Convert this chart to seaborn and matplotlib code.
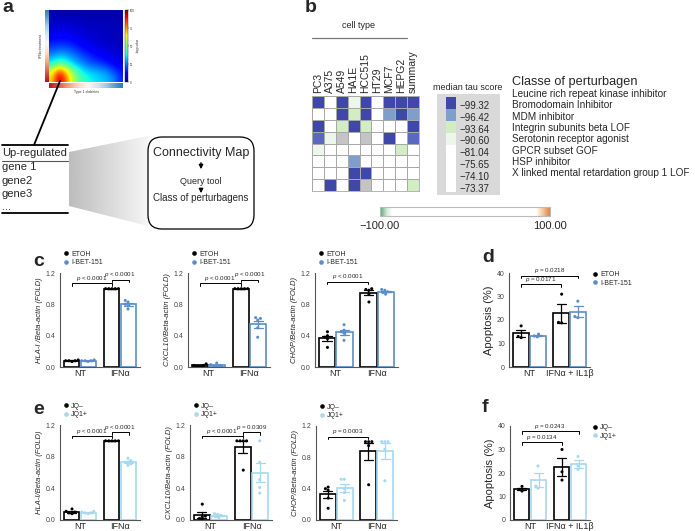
import numpy as np
import pandas as pd
import matplotlib
matplotlib.use("Agg")
import matplotlib.pyplot as plt
import seaborn as sns
from matplotlib.colors import ListedColormap, LinearSegmentedColormap
from matplotlib.lines import Line2D
from matplotlib.patches import Rectangle, Polygon, FancyBboxPatch

sns.set_style("white")
plt.rcParams["font.family"] = ["Liberation Sans", "DejaVu Sans"]
plt.rcParams["mathtext.fontset"] = "custom"
plt.rcParams["mathtext.it"] = "Liberation Sans:italic"
plt.rcParams["mathtext.rm"] = "Liberation Sans"

# ---------------- data ----------------
# panel a: overlap map (0-100 scale)
rrho_grid = [
    [4, 4, 4, 4, 4, 4, 4, 4, 4, 4, 4, 4],
    [6, 6, 6, 6, 6, 5, 5, 5, 5, 5, 5, 4],
    [8, 8, 8, 8, 7, 7, 6, 6, 6, 5, 5, 5],
    [10, 11, 11, 10, 9, 8, 7, 7, 6, 6, 5, 5],
    [14, 15, 15, 14, 12, 10, 9, 8, 7, 6, 6, 5],
    [20, 22, 22, 20, 17, 14, 12, 10, 9, 8, 7, 6],
    [28, 32, 31, 28, 24, 20, 17, 14, 12, 10, 9, 8],
    [38, 46, 44, 36, 30, 26, 22, 20, 18, 15, 12, 9],
    [60, 82, 74, 56, 44, 36, 32, 30, 28, 25, 20, 14],
    [68, 95, 86, 64, 50, 42, 38, 35, 33, 30, 26, 17],
]
gene_list = ["Up-regulated", "gene 1", "gene2", "gene3", "..."]

# panel b
cell_types = ["PC3", "A375", "A549", "HA1E", "HCC515", "HT29", "MCF7", "HEPG2", "summary"]
perturbagen_classes = [
    "Leucine rich repeat kinase inhibitor",
    "Bromodomain Inhibitor",
    "MDM inhibitor",
    "Integrin subunits beta LOF",
    "Serotonin receptor agonist",
    "GPCR subset GOF",
    "HSP inhibitor",
    "X linked mental retardation group 1 LOF",
]
tau_scores = [-99.32, -96.42, -93.64, -90.60, -81.04, -75.65, -74.10, -73.37]
# colour level per cell: 0 white, 1 very light green, 2 light green, 3 grey-blue, 4 blue, 5 dark blue, nan = grey
nan = np.nan
connectivity_levels = [
    [5, 0, 5, 1, 5, 0, 5, 5, 5],
    [0, 0, 5, 2, 5, 0, 3, 5, 3],
    [5, 0, 2, 5, 2, 0, 0, 0, 5],
    [4, 1, nan, 0, nan, 0, 5, 0, 4],
    [1, 0, 0, 0, 0, 0, 0, 2, 0],
    [0, 0, 0, 3, 0, 0, 0, 0, 0],
    [0, 0, 0, 5, 5, 0, 0, 0, 0],
    [0, 5, 0, 5, nan, 0, 0, 0, 2],
]
legend_levels = [5, 3, 2, 1, 0, 0, 0, 0]
level_colors = ["#ffffff", "#edf6ea", "#d3edc3", "#7f9fcb", "#5b68bf", "#3f47a9"]

# panels c-f  (order: NT t1, NT t2, IFN t1, IFN t2)
conds_ifn = ["NT", "IFNα"]
conds_il = ["NT", "IFNα + IL1β"]
treats_ibet = ["ETOH", "I-BET-151"]
treats_jq = ["JQ–", "JQ1+"]
colors_ibet = ["#000000", "#5b8ec8"]
colors_jq = ["#000000", "#a6d8ef"]

hla_ibet = [[0.09, 0.08, 0.08, 0.07, 0.08], [0.08, 0.09, 0.07, 0.08, 0.08],
            [1, 1, 1, 1, 1], [0.85, 0.83, 0.80, 0.78, 0.74]]
cxcl_ibet = [[0.04, 0.02, 0.02, 0.01, 0.01], [0.03, 0.05, 0.02, 0.01, 0.01],
             [1, 1, 1, 1, 1], [0.63, 0.62, 0.60, 0.50, 0.38]]
chop_ibet = [[0.45, 0.40, 0.38, 0.36, 0.25], [0.54, 0.47, 0.45, 0.43, 0.34],
             [1.0, 0.99, 0.98, 0.93, 0.83], [0.99, 0.98, 0.96, 0.95, 0.93]]
apop_ibet = [[17.5, 13.0, 12.5], [14.0, 13.2, 12.8], [31.0, 19.0, 18.8], [28.0, 21.5, 21.0]]

hla_jq = [[0.14, 0.11, 0.10, 0.09, 0.08], [0.11, 0.10, 0.09, 0.09, 0.08],
          [1, 1, 1, 1, 1], [0.78, 0.75, 0.73, 0.71, 0.69]]
cxcl_jq = [[0.20, 0.05, 0.04, 0.02, 0.0], [0.08, 0.07, 0.06, 0.04, 0.03],
           [1, 1, 1, 1, 0.63], [1.0, 0.73, 0.51, 0.41, 0.34]]
chop_jq = [[0.42, 0.40, 0.38, 0.28, 0.15], [0.52, 0.52, 0.40, 0.35, 0.25],
           [1.0, 1.0, 1.0, 0.95, 0.45], [1.0, 1.0, 1.0, 0.90, 0.50]]
apop_jq = [[14.3, 13.0, 12.3], [23.0, 14.5, 13.5], [30.0, 20.5, 17.0], [27.0, 23.0, 21.5]]

# ---------------- figure ----------------
W, H = 695, 531
fig = plt.figure(figsize=(W / 100, H / 100), dpi=100)


def px_ax(x0, y0, x1, y1, **kw):
    return fig.add_axes([x0 / W, 1 - y1 / H, (x1 - x0) / W, (y1 - y0) / H], **kw)


back = fig.add_axes([0, 0, 1, 1], zorder=-5)
back.set_xlim(0, W); back.set_ylim(H, 0); back.axis("off")
front = fig.add_axes([0, 0, 1, 1], zorder=10)
front.set_xlim(0, W); front.set_ylim(H, 0); front.axis("off")
front.patch.set_alpha(0)


def ftxt(x, y, s, **kw):
    front.text(x, y, s, **kw)


# panel letters
for lab, x, y in [("a", 2, 8), ("b", 305, 8), ("c", 33, 261), ("d", 482, 258), ("e", 33, 409), ("f", 482, 407)]:
    ftxt(x, y, lab, fontsize=14, fontweight="bold", va="center", ha="left")

# ---- panel a ----
ax_hm = px_ax(49, 10, 123, 82)
im = ax_hm.imshow(np.array(rrho_grid, float), cmap="jet", interpolation="bicubic", aspect="auto", vmin=0, vmax=100)
ax_hm.axis("off")
ax_ls = px_ax(45, 10, 49, 82)
ax_ls.imshow(np.linspace(0.85, 0.1, 64)[:, None], cmap="RdBu", vmin=0, vmax=1, aspect="auto")
ax_ls.axis("off")
ax_bs = px_ax(49, 83, 123, 88)
ax_bs.imshow(np.linspace(0.1, 0.85, 64)[None, :], cmap="RdBu", vmin=0, vmax=1, aspect="auto")
ax_bs.axis("off")
cax = px_ax(125, 10, 128, 82)
cb = fig.colorbar(im, cax=cax)
cb.set_ticks([0, 25, 50, 75, 100])
cax.tick_params(labelsize=2, length=1, width=0.3, pad=0.5)
cb.outline.set_linewidth(0.3)
cb.set_label("-log p-value", fontsize=2, labelpad=1)
ftxt(41, 46, "IFNα treatment", fontsize=2.5, rotation=90, ha="center", va="center", color="#333")
ftxt(86, 92, "Type 1 diabetes", fontsize=2.5, ha="center", va="center", color="#333")

front.plot([60, 34], [81, 145], color="k", lw=1.3)
front.plot([2, 68], [145, 145], color="k", lw=1.3)
front.plot([2, 68], [161, 161], color="#555", lw=0.8)
front.plot([2, 68], [213, 213], color="k", lw=1.3)
for s, y in zip(gene_list, [153, 167, 180.5, 194, 207]):
    ftxt(2, y, s, fontsize=8, va="center", ha="left")

wedge = Polygon([(69, 152), (148, 136), (148, 226), (69, 206)], closed=True, fc="none", ec="none",
                transform=front.transData)
front.add_patch(wedge)
gim = front.imshow(np.linspace(0.74, 0.96, 64)[None, :], cmap="gray", vmin=0, vmax=1,
                   extent=(69, 148, 228, 134), aspect="auto")
gim.set_clip_path(wedge)
front.set_xlim(0, W); front.set_ylim(H, 0)

box = FancyBboxPatch((148, 137), 106, 92, boxstyle="round,pad=0,rounding_size=14",
                     fc="white", ec="k", lw=0.9, transform=front.transData)
front.add_patch(box)
ftxt(201, 153, "Connectivity Map", fontsize=9, ha="center", va="center")
ftxt(201, 181, "Query tool", fontsize=6.5, ha="center", va="center")
ftxt(201, 198, "Class of perturbagens", fontsize=7, ha="center", va="center")
for y0, y1 in [(160, 172), (187, 196)]:
    front.annotate("", xy=(201, y1), xytext=(201, y0),
                   arrowprops=dict(arrowstyle="-|>", color="k", lw=1.0, mutation_scale=6))

# ---- panel b ----
cmap_b = ListedColormap(level_colors)
ax_b = px_ax(312, 96, 419, 191)
ax_b.set_facecolor("#c4c4c4")
sns.heatmap(np.array(connectivity_levels, float), cmap=cmap_b, vmin=-0.5, vmax=5.5, cbar=False,
            linewidths=0.6, linecolor="#a8a8a8", xticklabels=cell_types, yticklabels=False, ax=ax_b)
ax_b.xaxis.tick_top()
ax_b.set_xticklabels(cell_types, rotation=90, fontsize=7.5)
ax_b.tick_params(axis="x", length=0, pad=2)
for sp in ax_b.spines.values():
    sp.set_visible(True); sp.set_color("#a8a8a8"); sp.set_linewidth(0.6)

ftxt(359, 26, "cell type", fontsize=6.5, ha="center", va="center")
front.plot([312, 407], [38, 38], color="#777", lw=0.9)

back.add_patch(Rectangle((437, 94), 63, 101, fc="#d9d9d9", ec="none"))
ax_l = px_ax(446, 97, 456, 192)
sns.heatmap(np.array(legend_levels, float).reshape(-1, 1), cmap=cmap_b, vmin=-0.5, vmax=5.5, cbar=False,
            xticklabels=False, yticklabels=False, ax=ax_l)
ftxt(468, 88, "median tau score", fontsize=6.5, ha="center", va="center")
for i, v in enumerate(tau_scores):
    ftxt(459, 106 + i * 11.8, f"{v:.2f}".replace("-", "−"), fontsize=7, va="center", ha="left")
ftxt(512, 82, "Classe of perturbagen", fontsize=9.2, va="center", ha="left")
for i, s in enumerate(perturbagen_classes):
    ftxt(512, 94 + i * 11.35, s, fontsize=7.2, va="center", ha="left")

tau_cmap = LinearSegmentedColormap.from_list(
    "tau", [(0, "#5aa870"), (0.04, "#d8ecd8"), (0.07, "white"), (0.92, "white"), (0.96, "#f6c79a"), (1, "#e8823c")])
ax_cb = px_ax(380, 207, 550, 216)
ax_cb.imshow(np.linspace(-100, 100, 256)[None, :], cmap=tau_cmap, vmin=-100, vmax=100,
             aspect="auto", extent=(-100, 100, 0, 1))
ax_cb.set_xticks([]); ax_cb.set_yticks([])
for sp in ax_cb.spines.values():
    sp.set_color("#bbb"); sp.set_linewidth(0.8)
ftxt(380, 226, "−100.00", fontsize=8, ha="center", va="center")
ftxt(550, 226, "100.00", fontsize=8, ha="center", va="center")


# ---- bar panels ----
def make_df(groups, conds, treats):
    rows = []
    for i, vals in enumerate(groups):
        for v in vals:
            rows.append((conds[i // 2], treats[i % 2], v))
    return pd.DataFrame(rows, columns=["cond", "treat", "val"])


def bar_panel(ax, groups, conds, treats, colors, ylim, yticks, ylabel, brackets, legend_kw,
              ylab_fs=5.5, italic=True, xt_fs=6.5, ytick_fmt="{:.1f}"):
    df = make_df(groups, conds, treats)
    pal = dict(zip(treats, colors))
    sns.barplot(data=df, x="cond", y="val", hue="treat", order=conds, hue_order=treats,
                palette=pal, fill=False, errorbar="se", capsize=0.45,
                err_kws={"linewidth": 0.9}, linewidth=1.2, width=0.85, gap=0.08,
                legend=False, ax=ax)
    # colour each error bar like its bar
    for ln in ax.lines:
        xm = np.nanmean(np.asarray(ln.get_xdata(), float))
        ln.set_color(colors[0] if xm - np.round(xm) < 0 else colors[1])
    sns.swarmplot(data=df, x="cond", y="val", hue="treat", order=conds, hue_order=treats, palette=pal,
                  dodge=True, size=2.2, legend=False, ax=ax, zorder=5)
    ax.set_xlim(-0.5, 1.5)
    ax.set_ylim(*ylim)
    ax.set_yticks(yticks)
    ax.set_yticklabels([ytick_fmt.format(v) for v in yticks])
    ax.tick_params(axis="y", labelsize=5, length=2, width=0.6, pad=1, colors="#444")
    ax.tick_params(axis="x", labelsize=xt_fs, length=0, pad=1.5)
    sns.despine(ax=ax)
    for sp in ["left", "bottom"]:
        ax.spines[sp].set_linewidth(0.8); ax.spines[sp].set_color("#555")
    ax.set_xlabel("")
    ax.set_ylabel(ylabel, fontsize=ylab_fs, style="italic" if italic else "normal", labelpad=2)
    off = 0.85 / 4
    span = ylim[1] - ylim[0]
    for (c1, h1), (c2, h2), y, txt in brackets:
        xa = c1 + (-off if h1 == 0 else off)
        xb = c2 + (-off if h2 == 0 else off)
        d = 0.025 * span
        ax.plot([xa, xa, xb, xb], [y - d, y, y, y - d], color="k", lw=0.7, clip_on=False)
        ax.text((xa + xb) / 2, y + 0.006 * span, txt, fontsize=4.5, ha="center", va="bottom", clip_on=False)
    handles = [Line2D([], [], marker="o", ls="", color=c, markersize=2.3, label=t) for t, c in zip(treats, colors)]
    ax.legend(handles=handles, frameon=False, fontsize=5, handlelength=0.6, handletextpad=0.4,
              labelspacing=0.25, borderpad=0, borderaxespad=0, **legend_kw)


leg_top = dict(loc="lower left", bbox_to_anchor=(0.05, 1.07))
leg_right = dict(loc="upper left", bbox_to_anchor=(1.04, 1.02))
ticks_fold = [0.0, 0.4, 0.8, 1.2]
ticks_apop = [0, 10, 20, 30, 40]
P1 = r"$p$ < 0.0001"

ax = px_ax(60, 273, 140, 367)
bar_panel(ax, hla_ibet, conds_ifn, treats_ibet, colors_ibet, (0, 1.2), ticks_fold, "HLA-I /Beta-actin (FOLD)",
          [((0, 0), (1, 0), 1.07, P1), ((1, 0), (1, 1), 1.11, P1)], leg_top)
ax = px_ax(188, 273, 270, 367)
bar_panel(ax, cxcl_ibet, conds_ifn, treats_ibet, colors_ibet, (0, 1.2), ticks_fold, "CXCL10/Beta-actin (FOLD)",
          [((0, 0), (1, 0), 1.07, P1), ((1, 0), (1, 1), 1.11, P1)], leg_top)
ax = px_ax(315, 273, 398, 367)
bar_panel(ax, chop_ibet, conds_ifn, treats_ibet, colors_ibet, (0, 1.2), ticks_fold, "CHOP/Beta-actin (FOLD)",
          [((0, 0), (1, 0), 1.09, P1)], leg_top)
ax = px_ax(509, 273, 590, 367)
bar_panel(ax, apop_ibet, conds_il, treats_ibet, colors_ibet, (0, 40), ticks_apop, "Apoptosis (%)",
          [((0, 0), (1, 0), 35.2, r"$p$ = 0.0171"), ((0, 0), (1, 1), 38.7, r"$p$ = 0.0218")],
          leg_right, ylab_fs=8, italic=False, xt_fs=6.5, ytick_fmt="{:d}")

ax = px_ax(60, 425, 140, 520)
bar_panel(ax, hla_jq, conds_ifn, treats_jq, colors_jq, (0, 1.2), ticks_fold, "HLA-I/Beta-actin (FOLD)",
          [((0, 0), (1, 0), 1.06, P1), ((1, 0), (1, 1), 1.11, P1)], leg_top)
ax = px_ax(190, 425, 272, 520)
bar_panel(ax, cxcl_jq, conds_ifn, treats_jq, colors_jq, (0, 1.2), ticks_fold, "CXCL10/Beta-actin (FOLD)",
          [((0, 0), (1, 0), 1.06, P1), ((1, 0), (1, 1), 1.11, r"$p$ = 0.0309")], leg_top)
ax = px_ax(316, 426, 397, 520)
bar_panel(ax, chop_jq, conds_ifn, treats_jq, colors_jq, (0, 1.2), ticks_fold, "CHOP/Beta-actin (FOLD)",
          [((0, 0), (1, 0), 1.06, r"$p$ = 0.0003")], leg_top)
ax = px_ax(510, 426, 590, 520)
bar_panel(ax, apop_jq, conds_il, treats_jq, colors_jq, (0, 40), ticks_apop, "Apoptosis (%)",
          [((0, 0), (1, 0), 33.0, r"$p$ = 0.0134"), ((0, 0), (1, 1), 37.8, r"$p$ = 0.0243")],
          leg_right, ylab_fs=8, italic=False, xt_fs=6.5, ytick_fmt="{:d}")

fig.savefig("out.png", dpi=100)
